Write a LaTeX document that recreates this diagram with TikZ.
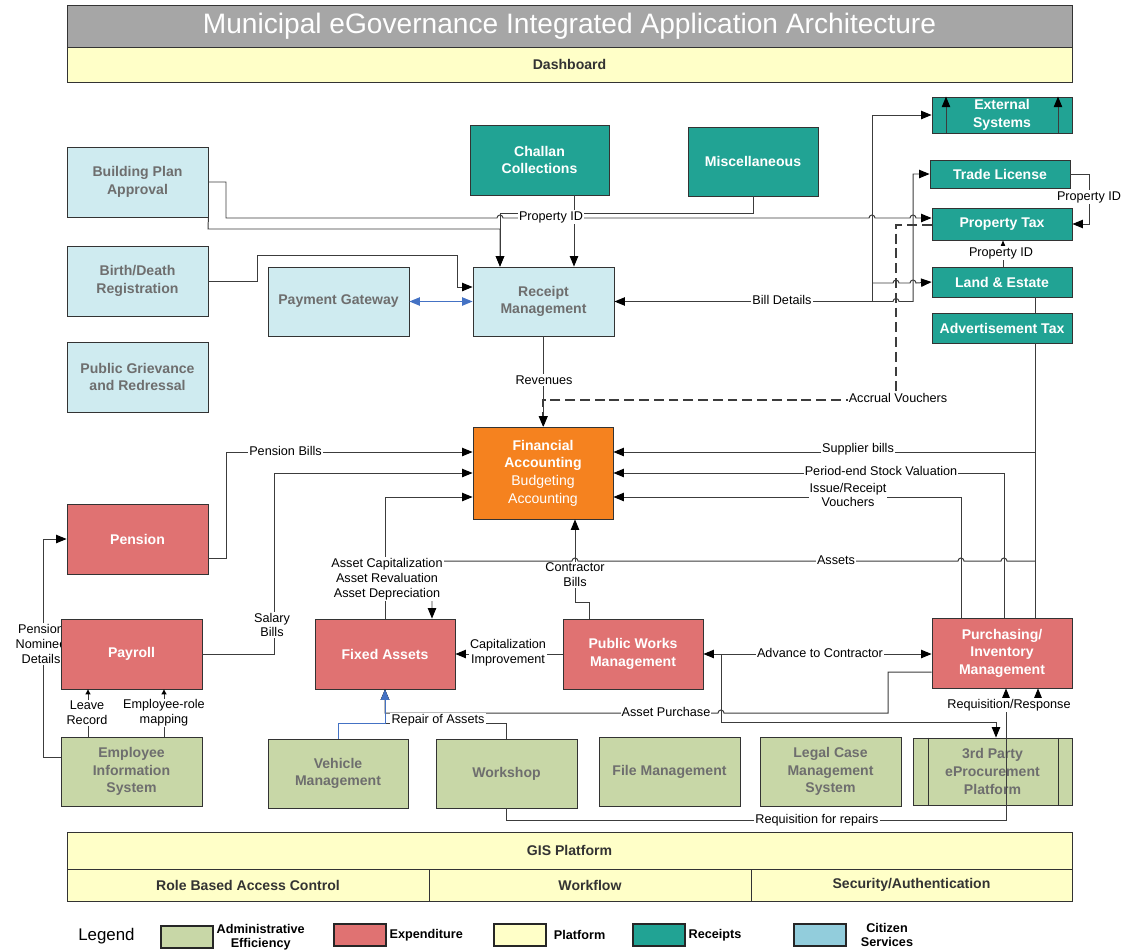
\documentclass[tikz,border=0pt]{standalone}
\usepackage{fontspec}
\setmainfont{Liberation Sans}
\usepackage{tikz}
\usetikzlibrary{arrows.meta}

\definecolor{hdrgray}{RGB}{166,166,166}
\definecolor{platyellow}{RGB}{255,255,200}
\definecolor{rcptteal}{RGB}{33,163,148}
\definecolor{citblue}{RGB}{207,235,240}
\definecolor{legblue}{RGB}{146,205,220}
\definecolor{expred}{RGB}{224,114,114}
\definecolor{admgreen}{RGB}{200,215,167}
\definecolor{finorange}{RGB}{245,130,31}
\definecolor{boxtext}{RGB}{110,110,110}
\definecolor{wiregray}{RGB}{60,60,60}
\definecolor{bluewire}{RGB}{68,114,196}

\tikzset{
  sz/.style 2 args={minimum width=#1*0.025cm, minimum height=#2*0.025cm},
  blk/.style={shape=rectangle, draw=black!80, line width=0.6pt, align=center,
    inner sep=1pt, font=\fontsize{10}{12.5}\selectfont\bfseries},
  receipt/.style={blk, fill=rcptteal, text=white},
  citizen/.style={blk, fill=citblue, text=boxtext},
  expend/.style={blk, fill=expred, text=white},
  admin/.style={blk, fill=admgreen, text=boxtext},
  platform/.style={blk, fill=platyellow, text=black!80},
  wire/.style={draw=wiregray, line width=0.7pt},
  arr/.style={-{Triangle[length=7.5pt,width=6pt,color=black]}},
  rarr/.style={{Triangle[length=7.5pt,width=6pt,color=black]}-},
  darr/.style={{Triangle[length=7.5pt,width=6pt,color=black]}-{Triangle[length=7.5pt,width=6pt,color=black]}},
  sarr/.style={-{Triangle[length=3.5pt,width=3.5pt,color=black]}},
  lbl/.style={fill=white, inner sep=0.8pt, align=center, font=\fontsize{9}{10.5}\selectfont},
  lgbox/.style={draw=black!85, line width=0.9pt, sz={52}{22}},
  lgtext/.style={anchor=west, align=center, inner sep=2pt, font=\fontsize{9}{10}\selectfont\bfseries},
}

\begin{document}
\begin{tikzpicture}[x=0.025cm, y=-0.025cm]
\useasboundingbox (0,0) rectangle (1133,949);

% header
\node[blk, fill=hdrgray, text=white, sz={1005}{42}, font=\fontsize{20}{24}\selectfont] (title) at (569.5,26)
  {Municipal eGovernance Integrated Application Architecture};
\node[platform, sz={1005}{35}] (dash) at (569.5,64.5) {Dashboard};

% receipts
\node[receipt, sz={140}{36}] (ext) at (1002,115) {External\\Systems};
\node[receipt, sz={140}{28}] (trade) at (1000,174) {Trade License};
\node[receipt, sz={140}{32}] (ptax) at (1002,224) {Property Tax};
\node[receipt, sz={140}{30}] (land) at (1002,282) {Land \& Estate};
\node[receipt, sz={140}{30}] (adv) at (1002,328) {Advertisement Tax};
\node[receipt, sz={139}{70}] (challan) at (539.5,160) {Challan\\Collections};
\node[receipt, sz={130}{69}] (misc) at (753,161.5) {Miscellaneous};

% citizen services
\node[citizen, sz={141}{70}] (bpa) at (137.5,182) {Building Plan\\Approval};
\node[citizen, sz={141}{70}] (bdr) at (137.5,281) {Birth/Death\\Registration};
\node[citizen, sz={141}{70}] (pgr) at (137.5,377) {Public Grievance\\and Redressal};
\node[citizen, sz={141}{69}] (pg) at (338.5,301.5) {Payment Gateway};
\node[citizen, sz={141}{69}] (recm) at (543.5,301.5) {Receipt\\Management};

% accounting
\node[blk, fill=finorange, text=white, sz={140}{92}] (fin) at (543,473)
  {Financial\\Accounting\\\mdseries Budgeting\\\mdseries Accounting};

% administrative efficiency
\node[admin, sz={141}{69}] (eis) at (131.5,771.5) {Employee\\Information\\System};
\node[admin, sz={140}{69}] (veh) at (338,773.5) {Vehicle\\Management};
\node[admin, sz={141}{69}] (work) at (506.5,773.5) {Workshop};
\node[admin, sz={141}{69}] (file) at (669.5,771.5) {File Management};
\node[admin, sz={141}{69}] (legal) at (830.5,771.5) {Legal Case\\Management\\System};
\node[admin, sz={159}{67}] (eproc) at (992.5,771.5) {3rd Party\\eProcurement\\Platform};
\draw[draw=black!80, line width=0.6pt] (eproc.north -| 928,0) -- (eproc.south -| 928,0)
  (eproc.north -| 1058,0) -- (eproc.south -| 1058,0);

% platform
\node[platform, sz={1005}{37}] (gis) at (569.5,850.5) {GIS Platform};
\node[platform, sz={362}{32}] (rbac) at (248,885) {Role Based Access Control};
\node[platform, sz={322}{32}] (wf) at (590,885) {Workflow};
\node[platform, sz={321}{32}] (sec) at (911.5,885) {Security/Authentication};

% expenditure
\node[expend, sz={141}{70}] (pension) at (137.5,539) {Pension};
% nominee details sit behind payroll
\draw[wire,arr] (eis.west |- 0,757) -- (43,757) -- (43,539) -- (pension.west);
\node[lbl] at (41,644) {Pension\\Nominee\\Details};
\node[expend, sz={141}{70}] (payroll) at (131.5,654) {Payroll};
\node[expend, sz={140}{70}] (fixed) at (385,654) {Fixed Assets};
\node[expend, sz={140}{70}] (pwm) at (633,654) {Public Works\\Management};
\node[expend, sz={140}{70}] (purch) at (1002,653) {Purchasing/\\Inventory\\Management};

% receipts side connectors
\draw[wire,arr] (bpa.east) -- (226,182) -- (226,218) -- (497,218) arc (180:360:3)
  -- (869,218) arc (180:360:3) -- (910,218) arc (180:360:3) -- (ptax.west |- 0,218);
\draw[wire,arr] (bpa.south east) -- (208,229) -- (500,229) -- (recm.north -| 500,0);
\draw[wire,arr] (misc.south) -- (753,213) -- (500,213) -- (recm.north -| 500,0);
\draw[wire,arr] (challan.south -| 574,0) -- (recm.north -| 574,0);
\draw[wire,arr] (bdr.east) -- (257,281) -- (257,255) -- (457,255) -- (457,287) -- (recm.west |- 0,287);
\draw[draw=bluewire, line width=0.7pt, {Triangle[length=7.5pt,width=6pt]}-{Triangle[length=7.5pt,width=6pt]}]
  (pg.east) -- (recm.west);
\draw[wire,darr] (trade.west) -- (913,174) -- (913,301.5) -- (899,301.5) arc (0:-180:3) -- (recm.east);
\draw[wire,rarr] (ext.west) -- (872,115) -- (872,301.5);
\draw[wire,arr] (872,283) -- (893,283) arc (180:360:3) -- (910,283) arc (180:360:3) -- (land.west);
\draw[wire,arr] (ext.south -| 946,0) -- (ext.north -| 946,0);
\draw[wire,arr] (ext.south -| 1058,0) -- (ext.north -| 1058,0);
\draw[wire,arr] (trade.east) -- (1089,174) -- (1089,224) -- (ptax.east);
\draw[wire,arr] (land.north -| 1003,0) -- (ptax.south -| 1003,0);
\draw[wire] (land.south -| 1035,0) -- (adv.north -| 1035,0);
\draw[wire, line width=1pt, dash pattern=on 7pt off 3.5pt, arr] (ptax.west |- 0,225) -- (896,225)
  -- (896,400) -- (543,400) -- (fin.north -| 543,0);
\draw[wire,arr] (recm.south) -- (recm.south |- fin.north);

% accounting inflows
\draw[wire,arr] (pension.east |- 0,558) -- (226,558) -- (226,452) -- (fin.west |- 0,452);
\draw[wire,arr] (payroll.east) -- (274,654) -- (274,473) -- (fin.west |- 0,473);
\draw[wire,arr] (fixed.north) -- (385,497) -- (fin.west |- 0,497);
\draw[wire] (adv.south -| 1035,0) -- (purch.north -| 1035,0);
\draw[wire,arr] (1035,452) -- (fin.east |- 0,452);
\draw[wire,arr] (purch.north -| 1004,0) -- (1004,473) -- (fin.east |- 0,473);
\draw[wire,arr] (purch.north -| 961,0) -- (961,497) -- (fin.east |- 0,497);
\draw[wire,arr] (1035,561) -- (1007,561) arc (0:-180:3) -- (964,561) arc (0:-180:3)
  -- (578,561) arc (0:-180:3) -- (432,561) -- (fixed.north -| 432,0);
\draw[wire,arr] (pwm.north -| 589,0) -- (589,602) -- (575,602) -- (fin.south -| 575,0);

% expenditure links
\draw[wire,arr] (pwm.west) -- (fixed.east);
\draw[wire,darr] (pwm.east) -- (purch.west |- pwm.east);
\draw[wire,arr] (purch.west |- 0,672) -- (888,672) -- (888,713) -- (724,713) arc (0:-180:3)
  -- (385,713) -- (fixed.south);
\draw[wire,arr] (pwm.east -| 721,0) -- (721,722) -- (996,722) -- (eproc.north -| 996,0);
\draw[wire,arr] (work.south) -- (506.5,820) -- (1006,820) -- (purch.south -| 1006,0);
\coordinate (rr) at (1038,700);
\draw[wire,arr] (rr) -- (purch.south -| 1038,0);
\draw[wire,arr] (work.north) -- (506.5,723) -- (385,723) -- (fixed.south);
\draw[draw=bluewire, line width=0.7pt, -{Triangle[length=7.5pt,width=6pt]}]
  (veh.north -| 338,0) -- (338,723) -- (385,723) -- (fixed.south);
\draw[wire,sarr] (eis.north -| 88,0) -- (payroll.south -| 88,0);
\draw[wire,sarr] (eis.north -| 164,0) -- (payroll.south -| 164,0);

% connector labels
\node[lbl] at (551,217) {Property ID};
\node[lbl] at (1089,197) {Property ID};
\node[lbl] at (1001,253) {Property ID};
\node[lbl] at (782,300) {Bill Details};
\node[lbl] at (544,380) {Revenues};
\node[lbl] at (898,398) {Accrual Vouchers};
\node[lbl] at (285.5,451) {Pension Bills};
\node[lbl] at (272,625) {Salary\\Bills};
\node[lbl] at (387,579) {Asset Capitalization\\Asset Revaluation\\Asset Depreciation};
\node[lbl] at (575,575) {Contractor\\Bills};
\node[lbl] at (858,449) {Supplier bills};
\node[lbl] at (881,471) {Period-end Stock Valuation};
\node[lbl] at (848,495) {Issue/Receipt\\Vouchers};
\node[lbl] at (836,560) {Assets};
\node[lbl] at (508,653) {Capitalization\\Improvement};
\node[lbl] at (820,653) {Advance to Contractor};
\node[lbl] at (666,712) {Asset Purchase};
\node[lbl] at (438,720) {Repair of Assets};
\node[lbl] at (817,820) {Requisition for repairs};
\node[lbl] at (1009,705) {Requisition/Response};
\node[lbl] at (87,713) {Leave\\Record};
\node[lbl] at (164,713) {Employee-role\\mapping};

% legend
\node[font=\fontsize{12}{14}\selectfont, anchor=west, inner sep=0pt] (legend) at (78,936) {Legend};
\node[lgbox, fill=admgreen] (lgadm) at (187,937) {};
\node[lgtext] at (lgadm.east) {Administrative\\Efficiency};
\node[lgbox, fill=expred] (lgexp) at (360,935) {};
\node[lgtext] at (lgexp.east) {Expenditure};
\node[lgbox, fill=platyellow] (lgplat) at (520,935) {};
\node[lgtext, xshift=3pt] at (lgplat.east) {Platform};
\node[lgbox, fill=rcptteal] (lgrec) at (659,935) {};
\node[lgtext] at (lgrec.east) {Receipts};
\node[lgbox, fill=legblue] (lgcit) at (820,935) {};
\node[lgtext, xshift=8pt] at (lgcit.east) {Citizen\\Services};
\end{tikzpicture}
\end{document}
